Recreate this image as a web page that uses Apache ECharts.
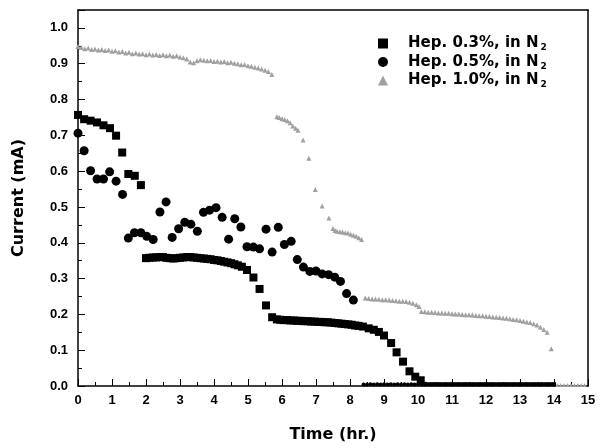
<!DOCTYPE html>
<html>
<head>
<meta charset="utf-8">
<script src="https://cdn.jsdelivr.net/npm/echarts@6/dist/echarts.min.js"></script>
<style>
	html,body{margin:0;padding:0;background:#fff;}
	#chart{width:605px;height:448px;}
</style>
</head>
<body>
<div id="chart"></div>
<script>
// series names (legend adds the subscript 2)
var seriesNames = ['Hep. 0.3%, in N', 'Hep. 0.5%, in N', 'Hep. 1.0%, in N'];

// Hep. 0.3% : [time (hr), current (mA)]
var hep03 = [
	[0,0.757],[0.18,0.745],[0.37,0.741],[0.56,0.736],[0.75,0.728],[0.94,0.72],[1.12,0.699],
	[1.3,0.652],[1.48,0.592],[1.67,0.587],[1.85,0.561],
	[2.0,0.357],[2.1,0.358],[2.2,0.359],[2.3,0.359],[2.4,0.36],[2.5,0.36],[2.6,0.358],[2.7,0.357],
	[2.8,0.356],[2.9,0.357],[3.0,0.358],[3.1,0.359],[3.2,0.36],[3.3,0.36],[3.4,0.359],[3.5,0.358],
	[3.6,0.357],[3.7,0.356],[3.8,0.355],[3.9,0.354],[4.0,0.352],[4.1,0.351],[4.2,0.349],[4.3,0.347],
	[4.4,0.345],[4.5,0.343],[4.6,0.34],[4.7,0.337],[4.82,0.333],[4.97,0.324],[5.16,0.303],[5.34,0.271],
	[5.53,0.225],[5.71,0.192],
	[5.85,0.186],[5.95,0.185],[6.05,0.184],[6.15,0.184],[6.25,0.183],[6.35,0.183],[6.45,0.182],[6.55,0.182],
	[6.65,0.181],[6.75,0.181],[6.85,0.18],[6.95,0.18],[7.05,0.179],[7.15,0.179],[7.25,0.178],[7.35,0.178],
	[7.45,0.177],[7.55,0.176],[7.65,0.175],[7.75,0.174],[7.85,0.173],[7.95,0.172],[8.05,0.171],[8.15,0.169],
	[8.25,0.168],[8.38,0.166],[8.55,0.161],[8.7,0.157],[8.85,0.151],[9.0,0.141],[9.21,0.12],[9.37,0.094],
	[9.56,0.068],[9.75,0.041],[9.92,0.026],[10.08,0.016],
	[10.2,0.006],[10.3,0.005],[10.4,0.005],[10.5,0.005],[10.6,0.005],[10.7,0.005],[10.8,0.005],[10.9,0.005],
	[11.0,0.005],[11.1,0.005],[11.2,0.005],[11.3,0.005],[11.4,0.005],[11.5,0.005],[11.6,0.005],[11.7,0.005],
	[11.8,0.005],[11.9,0.005],[12.0,0.005],[12.1,0.005],[12.2,0.005],[12.3,0.005],[12.4,0.005],[12.5,0.005],
	[12.6,0.005],[12.7,0.005],[12.8,0.005],[12.9,0.005],[13.0,0.005],[13.1,0.005],[13.2,0.005],[13.3,0.005],
	[13.4,0.005],[13.5,0.005],[13.6,0.005],[13.7,0.005],[13.8,0.005],[13.9,0.005],[14.0,0.005]
];

// Hep. 0.5%
var hep05 = [
	[0,0.706],[0.18,0.657],[0.37,0.601],[0.56,0.578],[0.75,0.578],[0.93,0.598],[1.12,0.572],[1.31,0.535],
	[1.48,0.413],[1.66,0.428],[1.85,0.428],[2.02,0.418],[2.21,0.409],[2.41,0.486],[2.59,0.514],[2.77,0.415],
	[2.96,0.439],[3.14,0.457],[3.32,0.452],[3.51,0.432],[3.69,0.485],[3.87,0.491],[4.06,0.498],[4.24,0.471],
	[4.43,0.41],[4.61,0.467],[4.79,0.444],[4.97,0.389],[5.16,0.388],[5.34,0.383],[5.53,0.438],[5.71,0.374],
	[5.89,0.443],[6.07,0.395],[6.27,0.404],[6.45,0.353],[6.63,0.332],[6.82,0.32],[7.0,0.321],[7.18,0.313],
	[7.37,0.311],[7.55,0.304],[7.72,0.292],[7.9,0.258],[8.1,0.24],
	[8.4,0.004],[8.5,0.004],[8.6,0.005],[8.7,0.004],[8.8,0.005],[8.9,0.004],[9.0,0.005],[9.1,0.004],
	[9.2,0.005],[9.3,0.004],[9.4,0.005],[9.5,0.004],[9.6,0.005],[9.7,0.004],[9.8,0.005],[9.9,0.004],
	[10.0,0.005],[10.1,0.004],[10.2,0.004],[10.4,0.004],[10.6,0.004],[10.8,0.004],[11.0,0.004],[11.2,0.004],
	[11.4,0.004],[11.6,0.004],[11.8,0.004],[12.0,0.004],[12.2,0.004],[12.4,0.004],[12.6,0.004],[12.8,0.004],
	[13.0,0.004],[13.2,0.004],[13.4,0.004],[13.6,0.004],[13.8,0.004],[14.0,0.004]
];

// Hep. 1.0%
var hep10 = [
	[0,0.948],[0.1,0.945],[0.2,0.942],[0.3,0.944],[0.4,0.94],[0.5,0.941],[0.6,0.938],[0.7,0.94],
	[0.8,0.937],[0.9,0.938],[1.0,0.935],[1.1,0.936],[1.2,0.933],[1.3,0.934],[1.4,0.93],[1.5,0.932],
	[1.6,0.928],[1.7,0.93],[1.8,0.927],[1.9,0.928],[2.0,0.925],[2.1,0.927],[2.2,0.924],[2.3,0.926],
	[2.4,0.923],[2.5,0.925],[2.6,0.922],[2.7,0.924],[2.8,0.921],[2.9,0.922],[3.0,0.919],[3.1,0.917],
	[3.2,0.913],[3.3,0.905],[3.4,0.903],[3.5,0.908],[3.6,0.911],[3.7,0.91],[3.8,0.908],[3.9,0.909],
	[4.0,0.906],[4.1,0.907],[4.2,0.905],[4.3,0.906],[4.4,0.903],[4.5,0.904],[4.6,0.901],[4.7,0.9],
	[4.8,0.897],[4.9,0.898],[5.0,0.894],[5.1,0.893],[5.2,0.89],[5.3,0.888],[5.4,0.885],[5.5,0.882],
	[5.6,0.878],[5.7,0.87],
	[5.85,0.752],[5.92,0.75],[6.0,0.746],[6.08,0.744],[6.16,0.741],[6.24,0.735],[6.32,0.726],[6.4,0.72],
	[6.47,0.714],[6.62,0.687],[6.79,0.636],[6.98,0.549],[7.18,0.503],[7.38,0.469],
	[7.5,0.44],[7.56,0.434],[7.62,0.432],[7.7,0.431],[7.78,0.43],[7.86,0.428],[7.94,0.427],[8.02,0.424],
	[8.1,0.421],[8.18,0.418],[8.26,0.414],[8.34,0.409],
	[8.45,0.246],[8.55,0.244],[8.65,0.243],[8.75,0.243],[8.85,0.242],[8.95,0.241],[9.05,0.241],[9.15,0.24],
	[9.25,0.239],[9.35,0.238],[9.45,0.237],[9.55,0.237],[9.65,0.236],[9.75,0.234],[9.85,0.231],[9.95,0.227],
	[10.03,0.222],
	[10.1,0.208],[10.2,0.207],[10.3,0.206],[10.4,0.206],[10.5,0.205],[10.6,0.204],[10.7,0.204],[10.8,0.203],
	[10.9,0.203],[11.0,0.202],[11.1,0.201],[11.2,0.201],[11.3,0.2],[11.4,0.199],[11.5,0.199],[11.6,0.198],
	[11.7,0.197],[11.8,0.196],[11.9,0.196],[12.0,0.195],[12.1,0.194],[12.2,0.193],[12.3,0.192],[12.4,0.191],
	[12.5,0.19],[12.6,0.189],[12.7,0.188],[12.8,0.186],[12.9,0.185],[13.0,0.183],[13.1,0.181],[13.2,0.179],
	[13.3,0.177],[13.4,0.174],[13.5,0.17],[13.6,0.164],[13.7,0.158],[13.8,0.15],[13.92,0.104],
	[14.1,0.003],[14.2,0.003],[14.3,0.003],[14.4,0.003],[14.5,0.003],[14.6,0.003],[14.7,0.003],[14.8,0.003],[14.9,0.003]
];

var myChart = echarts.init(document.getElementById('chart'));
var labelFont = {
	color:'#000',
	fontFamily:'Liberation Sans',
	fontWeight:'bold',
	fontSize:13
};
var titleFont = {
	color:'#000',
	fontFamily:'DejaVu Sans',
	fontWeight:'bold',
	fontSize:16
};
var frameAxis = {
	axisLine:{show:true,onZero:false,lineStyle:{color:'#000',width:1.5}},
	axisTick:{show:false},
	axisLabel:{show:false},
	splitLine:{show:false}
};
// near-zero points are drawn as a thin row sitting on the axis
function markerSize(big){
	return function(val){
		return val[1] < 0.01 ? 4 : big;
	};
}
var option = {
	animation:false,
	backgroundColor:'#fff',
	grid:{
		left:78,
		right:17,
		top:10,
		bottom:57
	},
	legend:{
		orient:'vertical',
		left:373,
		top:31,
		itemWidth:10,
		itemHeight:10,
		itemGap:2,
		symbolKeepAspect:true,
		data:[
			{name:seriesNames[0],icon:'rect'},
			{name:seriesNames[1],icon:'circle'},
			{name:seriesNames[2],icon:'triangle'}
		],
		formatter:function(name){
			return '{a|' + name + '}{s|2}';
		},
		textStyle:{
			rich:{
				a:{fontFamily:'DejaVu Sans',fontWeight:'bold',fontSize:15,color:'#000',lineHeight:18,verticalAlign:'middle',padding:[0,0,0,15]},
				s:{fontFamily:'DejaVu Sans',fontWeight:'bold',fontSize:9,color:'#000',lineHeight:18,verticalAlign:'bottom',padding:[0,0,0,2]}
			}
		}
	},
	xAxis:[
		{
			type:'value',
			min:0,
			max:15,
			interval:1,
			name:'Time (hr.)',
			nameLocation:'middle',
			nameGap:41,
			nameTextStyle:titleFont,
			axisLine:{onZero:false,lineStyle:{color:'#000',width:1.5}},
			axisTick:{inside:true,length:7,lineStyle:{color:'#000',width:1}},
			minorTick:{show:true,splitNumber:2,length:4,lineStyle:{color:'#000',width:1}},
			axisLabel:Object.assign({margin:8},labelFont),
			splitLine:{show:false}
		},
		Object.assign({type:'value',position:'top',min:0,max:15}, frameAxis)
	],
	yAxis:[
		{
			type:'value',
			min:0,
			max:1.05,
			interval:0.1,
			name:'Current (mA)',
			nameLocation:'middle',
			nameGap:51,
			nameTextStyle:titleFont,
			axisLine:{onZero:false,lineStyle:{color:'#000',width:1.5}},
			axisTick:{inside:true,length:7,lineStyle:{color:'#000',width:1}},
			minorTick:{show:true,splitNumber:2,length:4,lineStyle:{color:'#000',width:1}},
			axisLabel:Object.assign({
				margin:10,
				showMaxLabel:false,
				formatter:function(v){ return v.toFixed(1); }
			},labelFont),
			splitLine:{show:false}
		},
		Object.assign({type:'value',position:'right',min:0,max:1.05}, frameAxis)
	],
	series:[
		{
			name:seriesNames[2],
			type:'scatter',
			symbol:'triangle',
			symbolSize:markerSize(5),
			itemStyle:{color:'#a0a0a0',opacity:1},
			clip:true,
			data:hep10
		},
		{
			name:seriesNames[1],
			type:'scatter',
			symbol:'circle',
			symbolSize:markerSize(9),
			itemStyle:{color:'#000',opacity:1},
			clip:true,
			data:hep05
		},
		{
			name:seriesNames[0],
			type:'scatter',
			symbol:'rect',
			symbolSize:markerSize(8),
			itemStyle:{color:'#000',opacity:1},
			clip:true,
			data:hep03
		}
	]
};
myChart.setOption(option);
</script>
</body>
</html>
